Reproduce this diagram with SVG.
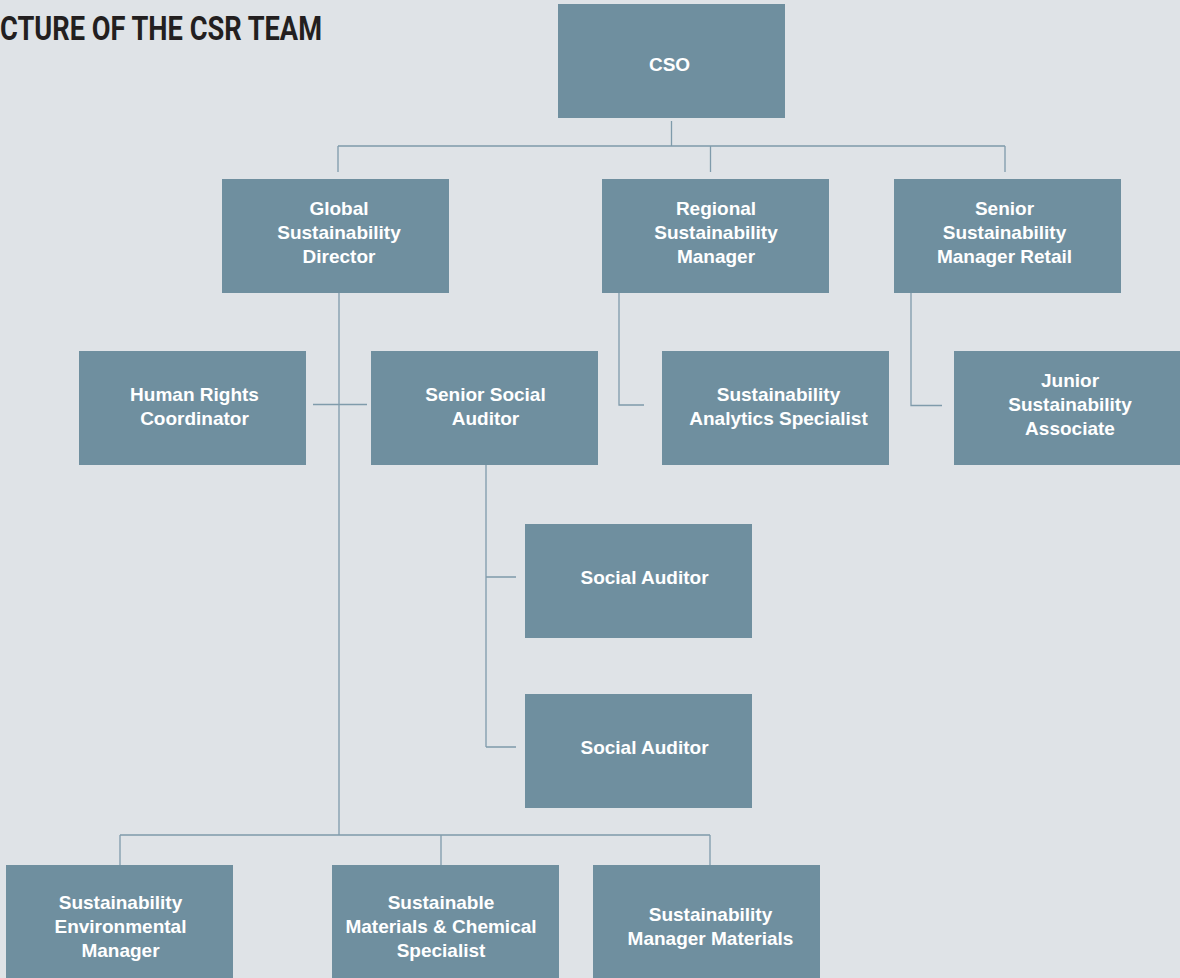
<svg xmlns="http://www.w3.org/2000/svg" width="1180" height="978" viewBox="0 0 1180 978">
<style>
.bg{fill:#dfe3e7}
.box{fill:#6f8f9f}
.lbl{font-family:"Liberation Sans",Arial,sans-serif;font-weight:700;font-size:19px;fill:#ffffff;text-anchor:middle}
.ttl{font-family:Roboto,"Liberation Sans",sans-serif;font-weight:700;font-size:33px;fill:#231f20}
.con{fill:none;stroke:#7f9bab;stroke-width:1.3}
</style>
<rect class="bg" x="0" y="0" width="1180" height="978"/>
<text class="ttl" x="0" y="40" textLength="322" lengthAdjust="spacingAndGlyphs">CTURE OF THE CSR TEAM</text>
<g id="connectors">
<path class="con" d="M671.5 121V146M338 146H1005M338 146V172M710.5 146V172M1005 146V172"/>
<path class="con" d="M339 293V835M313 404.5H367"/>
<path class="con" d="M619 293V405H644"/>
<path class="con" d="M911 293V405.5H942"/>
<path class="con" d="M486 465V747M486 577H516M486 747H516"/>
<path class="con" d="M120 835H710M120 835V865M441 835V865M710 835V865"/>
</g>
<g id="cso"><rect class="box" x="558" y="4" width="227" height="114"/><text class="lbl" x="669.5" y="71">CSO</text></g>
<g id="global"><rect class="box" x="222" y="179" width="227" height="114"/><text class="lbl" x="339" y="215">Global</text><text class="lbl" x="339" y="239">Sustainability</text><text class="lbl" x="339" y="263">Director</text></g>
<g id="regional"><rect class="box" x="602" y="179" width="227" height="114"/><text class="lbl" x="716" y="215">Regional</text><text class="lbl" x="716" y="239">Sustainability</text><text class="lbl" x="716" y="263">Manager</text></g>
<g id="senior-retail"><rect class="box" x="894" y="179" width="227" height="114"/><text class="lbl" x="1004.5" y="215">Senior</text><text class="lbl" x="1004.5" y="239">Sustainability</text><text class="lbl" x="1004.5" y="263">Manager Retail</text></g>
<g id="human-rights"><rect class="box" x="79" y="351" width="227" height="114"/><text class="lbl" x="194.5" y="401">Human Rights</text><text class="lbl" x="194.5" y="425">Coordinator</text></g>
<g id="senior-social"><rect class="box" x="371" y="351" width="227" height="114"/><text class="lbl" x="485.5" y="401">Senior Social</text><text class="lbl" x="485.5" y="425">Auditor</text></g>
<g id="analytics"><rect class="box" x="662" y="351" width="227" height="114"/><text class="lbl" x="778.5" y="401">Sustainability</text><text class="lbl" x="778.5" y="425">Analytics Specialist</text></g>
<g id="junior"><rect class="box" x="954" y="351" width="227" height="114"/><text class="lbl" x="1070" y="387">Junior</text><text class="lbl" x="1070" y="411">Sustainability</text><text class="lbl" x="1070" y="435">Associate</text></g>
<g id="social-1"><rect class="box" x="525" y="524" width="227" height="114"/><text class="lbl" x="644.5" y="584">Social Auditor</text></g>
<g id="social-2"><rect class="box" x="525" y="694" width="227" height="114"/><text class="lbl" x="644.5" y="754">Social Auditor</text></g>
<g id="env-manager"><rect class="box" x="6" y="865" width="227" height="114"/><text class="lbl" x="120.5" y="909">Sustainability</text><text class="lbl" x="120.5" y="933">Environmental</text><text class="lbl" x="120.5" y="957">Manager</text></g>
<g id="materials-chem"><rect class="box" x="332" y="865" width="227" height="114"/><text class="lbl" x="441" y="909">Sustainable</text><text class="lbl" x="441" y="933">Materials &amp; Chemical</text><text class="lbl" x="441" y="957">Specialist</text></g>
<g id="manager-materials"><rect class="box" x="593" y="865" width="227" height="114"/><text class="lbl" x="710.5" y="921">Sustainability</text><text class="lbl" x="710.5" y="945">Manager Materials</text></g>
</svg>
